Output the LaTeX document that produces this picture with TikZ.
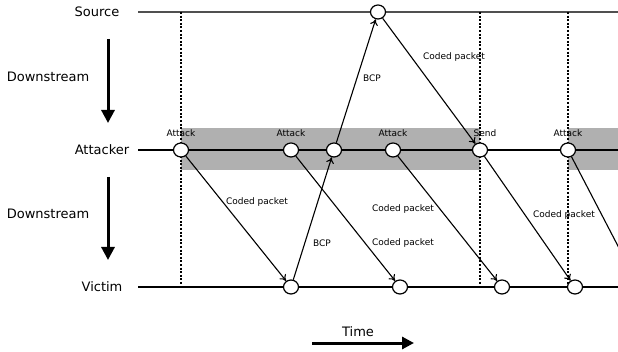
\documentclass[tikz,border=0pt]{standalone}
\usepackage{fontspec}
\setmainfont{DejaVu Sans}
\usetikzlibrary{arrows.meta,shapes.geometric}
\definecolor{bandgray}{RGB}{176,176,176}
\definecolor{srcgray}{RGB}{80,80,80}
\tikzset{
  evt/.style={ellipse,draw=black,line width=1.2pt,fill=white,minimum width=15pt,minimum height=14pt,inner sep=0pt},
  big/.style={font=\fontsize{13}{15}\selectfont,inner sep=0pt},
  lbl/.style={font=\fontsize{9}{11}\selectfont,inner sep=0pt},
  pkt/.style={line width=1.1pt,-{To[length=6pt,width=8pt]}},
  tline/.style={line width=1.3pt},
  dotline/.style={line width=1.3pt,dash pattern=on 2pt off 1.6pt},
  bigarrow/.style={line width=3pt,-{Triangle[length=13pt,width=13pt]}}
}
\begin{document}
\begin{tikzpicture}[x=1pt,y=-1pt]
\useasboundingbox (0,0) rectangle (618,352);
% gray bands
\fill[bandgray] (181,128) rectangle (480,170);
\fill[bandgray] (568,128) rectangle (618,170);
% timelines
\draw[srcgray,line width=2pt] (138,12) -- (618,12);
\draw[tline] (138,150) -- (618,150);
\draw[tline] (138,287) -- (618,287);
% dotted verticals
\coordinate (p1) at (181,12); \coordinate (q1) at (181,285);
\coordinate (p2) at (480,12); \coordinate (q2) at (480,285);
\coordinate (p3) at (568,12); \coordinate (q3) at (568,285);
\draw[dotline] (p1) -- (q1);
\draw[dotline] (p2) -- (q2);
\draw[dotline] (p3) -- (q3);
% row labels
\node[big] (lsrc) at (97,12) {Source};
\node[big] (latt) at (102,150) {Attacker};
\node[big] (lvic) at (102,287) {Victim};
\node[big] (ld1) at (48,77) {Downstream};
\node[big] (ld2) at (48,214) {Downstream};
\coordinate (d1a) at (108,39);
\coordinate (d1b) at (108,123);
\coordinate (d2a) at (108,177);
\coordinate (d2b) at (108,260);
\draw[bigarrow] (d1a) -- (d1b);
\draw[bigarrow] (d2a) -- (d2b);
% events
\node[evt] (s1) at (378,12) {};
\node[evt] (a1) at (181,150) {};
\node[evt] (a2) at (291,150) {};
\node[evt] (a3) at (334,150) {};
\node[evt] (a4) at (393,150) {};
\node[evt] (a5) at (480,150) {};
\node[evt] (a6) at (568,150) {};
\node[evt] (v1) at (291,287) {};
\node[evt] (v2) at (400,287) {};
\node[evt] (v3) at (502,287) {};
\node[evt] (v4) at (575,287) {};
% packets
\draw[pkt] (a1) -- (v1);
\draw[pkt] (v1) -- (a3);
\draw[pkt] (a3) -- (s1);
\draw[pkt] (s1) -- (a5);
\draw[pkt] (a2) -- (v2);
\draw[pkt] (a4) -- (v3);
\draw[pkt] (a5) -- (v4);
\coordinate (edge) at (619,248);
\draw[line width=1.1pt] (a6) -- (edge);
% packet labels
\node[lbl] (c1) at (257,202) {Coded packet};
\node[lbl] (b1) at (322,243) {BCP};
\node[lbl] (b2) at (372,78) {BCP};
\node[lbl] (c2) at (454,57) {Coded packet};
\node[lbl] (c3) at (403,209) {Coded packet};
\node[lbl] (c4) at (403,243) {Coded packet};
\node[lbl] (c5) at (564,215) {Coded packet};
% event labels
\node[lbl] (t1) at (181,133) {Attack};
\node[lbl] (t2) at (291,133) {Attack};
\node[lbl] (t3) at (393,133) {Attack};
\node[lbl] (t4) at (485,133) {Send};
\node[lbl] (t5) at (568,133) {Attack};
% time
\node[big] (ltime) at (358,332) {Time};
\coordinate (ta) at (312,343);
\coordinate (tb) at (414,343);
\draw[line width=3pt,-{Triangle[length=12pt,width=12pt]}] (ta) -- (tb);
\end{tikzpicture}
\end{document}
